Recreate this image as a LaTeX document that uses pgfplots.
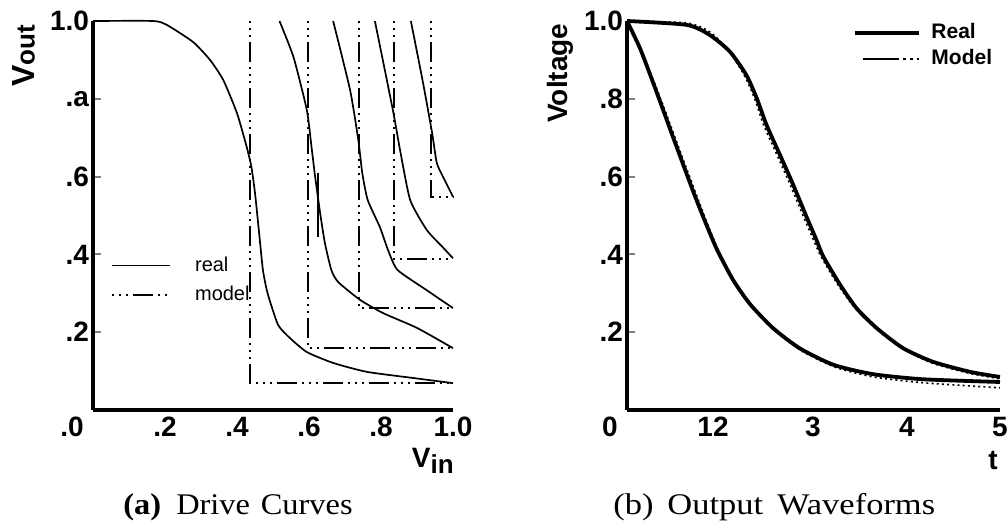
\documentclass[border=0pt]{standalone}
\usepackage{pgfplots}
\pgfplotsset{compat=1.18}
\usepackage{fontspec}
\setmainfont{Liberation Serif}
\setsansfont{Liberation Sans}
\newcommand\tickfont{\sffamily\bfseries\fontsize{14}{16}\selectfont}
\begin{document}
\begin{tikzpicture}
\useasboundingbox (-46.5pt,-57pt) rectangle (457.5pt,205pt);
\tikzset{
  realL/.style={line width=0.85pt, smooth, tension=0.35},
  modelL/.style={line width=0.85pt, dash pattern=on 1pt off 2.5pt on 1pt off 2.5pt on 1pt off 2.5pt on 10pt off 2.5pt},
  realR/.style={line width=1.9pt, smooth, tension=0.4},
  modelR/.style={line width=0.8pt, dash pattern=on 1pt off 1.6pt, smooth, tension=0.4},
}
% ---------------- (a) Drive curves ----------------
\begin{axis}[at={(0,0)}, anchor=south west, scale only axis,
  width=180pt, height=194.5pt,
  xmin=0, xmax=1, ymin=0, ymax=1,
  axis lines=left, axis line style={-, line width=1.6pt},
  clip=false,
  xtick={0.2,0.4,0.6,0.8,1.0}, xticklabels={.2,.4,.6,.8,1.0},
  ytick={0.2,0.4,0.6,0.8,1.0}, yticklabels={.2,.4,.6,.a,1.0},
  tick label style={font=\tickfont},
  xtick style={draw=none}, ytick style={line width=1pt},
  tick align=inside, major tick length=4pt,
  yticklabel style={xshift=1.5pt},
  legend style={draw=none, fill=none, at={(axis cs:0.05,0.405)}, anchor=north west,
    font=\sffamily\fontsize{10}{12}\selectfont, row sep=2pt, column sep=10pt, inner sep=0pt,
    cells={anchor=west}},
  legend image code/.code={\draw[#1] (0pt,0pt) -- (29pt,0pt);},
]
\addplot[realL] coordinates {(0,1.0) (0.167,1.0) (0.205,0.99) (0.278,0.946) (0.325,0.90) (0.362,0.848) (0.40,0.763) (0.427,0.676) (0.44,0.625) (0.45,0.558) (0.462,0.45) (0.472,0.36) (0.485,0.300) (0.514,0.219) (0.547,0.185) (0.594,0.149) (0.667,0.121) (0.761,0.098) (0.90,0.081) (1.0,0.069)};
\addlegendentry{real}
\addplot[modelL] coordinates {(0.436,1.0) (0.436,0.069) (1.0,0.069)};
\addlegendentry{model}
% curve 2
\addplot[realL, forget plot] coordinates {(0.518,1.0) (0.557,0.907) (0.594,0.771) (0.607,0.676) (0.617,0.60) (0.631,0.506) (0.644,0.43) (0.662,0.36) (0.681,0.329) (0.742,0.283) (0.806,0.249) (0.90,0.211) (1.0,0.159)};
\addplot[line width=0.85pt, forget plot] coordinates {(0.625,0.61) (0.625,0.445)};
\addplot[modelL, forget plot] coordinates {(0.598,1.0) (0.598,0.159) (1.0,0.159)};
% curve 3
\addplot[realL, forget plot] coordinates {(0.667,1.0) (0.714,0.823) (0.737,0.694) (0.748,0.609) (0.763,0.54) (0.797,0.47) (0.82,0.41) (0.846,0.36) (0.927,0.308) (1.0,0.262)};
\addplot[modelL, forget plot] coordinates {(0.739,1.0) (0.739,0.262) (1.0,0.262)};
% curve 4
\addplot[realL, forget plot] coordinates {(0.783,1.0) (0.833,0.771) (0.853,0.668) (0.881,0.54) (0.927,0.463) (0.97,0.42) (1.0,0.39)};
\addplot[modelL, forget plot] coordinates {(0.837,1.0) (0.837,0.388) (1.0,0.388)};
% curve 5
\addplot[realL, forget plot] coordinates {(0.883,1.0) (0.917,0.84) (0.942,0.712) (0.955,0.635) (0.972,0.60) (1.0,0.548)};
\addplot[modelL, forget plot] coordinates {(0.938,1.0) (0.938,0.548) (1.0,0.548)};
\node[anchor=north, font=\tickfont, inner sep=0.333em] at (axis cs:-0.058,0) {.0};
\node[rotate=90, anchor=south, font=\sffamily\bfseries, inner sep=0pt] at (axis cs:-0.16,0.91) {{\fontsize{16}{16}\selectfont V}{\fontsize{13}{13}\selectfont out}};
\node[font=\sffamily\bfseries, inner sep=0pt] at (axis cs:0.944,-0.131) {{\fontsize{14}{14}\selectfont V}\raisebox{-3pt}{\fontsize{13}{13}\selectfont in}};
\end{axis}
% ---------------- (b) Output waveforms ----------------
\begin{axis}[at={(267pt,0)}, anchor=south west, scale only axis,
  width=186.5pt, height=194.5pt,
  xmin=0, xmax=5, ymin=0, ymax=1,
  axis lines=left, axis line style={-, line width=1.6pt},
  clip=false,
  xtick={1.153,2.493,3.753,5}, xticklabels={12,3,4,5},
  ytick={0.2,0.4,0.6,0.8,1.0}, yticklabels={.2,.4,.6,.8,1.0},
  tick label style={font=\tickfont},
  xtick style={draw=none}, ytick style={line width=1pt},
  tick align=inside, major tick length=4pt,
  yticklabel style={xshift=1.5pt},
  legend style={draw=none, fill=none, at={(rel axis cs:0.606,1.005)}, anchor=north west,
    font=\sffamily\bfseries\fontsize{10.5}{12}\selectfont, row sep=0pt, column sep=3pt, inner sep=0pt,
    cells={anchor=west}},
]
\addplot[realR, legend image code/.code={\draw[solid, line width=2pt] (0pt,0pt) -- (32pt,0pt);}] coordinates {(0,1.0) (0.174,0.93) (0.353,0.84) (0.487,0.77) (0.62,0.70) (0.755,0.63) (0.889,0.561) (1.02,0.497) (1.2,0.415) (1.42,0.335) (1.65,0.272) (1.96,0.21) (2.32,0.158) (2.77,0.116) (3.3,0.092) (3.97,0.079) (5.0,0.072)};
\addlegendentry{Real}
\addplot[modelR, legend image code/.code={\draw[solid, line width=0.8pt] (4pt,0pt) -- (22pt,0pt); \draw[line width=1pt, dash pattern=on 1.2pt off 2.3pt] (24pt,0pt) -- (32pt,0pt);}] coordinates {(0,1.0) (0.18,0.93) (0.37,0.84) (0.51,0.77) (0.645,0.70) (0.78,0.63) (0.915,0.561) (1.045,0.495) (1.225,0.41) (1.44,0.33) (1.67,0.268) (1.98,0.205) (2.34,0.152) (2.79,0.11) (3.3,0.085) (3.97,0.07) (5.0,0.057)};
\addlegendentry{Model}
\addplot[realR, forget plot] coordinates {(0,1.0) (0.8,0.99) (1.11,0.964) (1.38,0.921) (1.6,0.861) (1.74,0.801) (1.87,0.733) (2.05,0.656) (2.23,0.578) (2.41,0.495) (2.54,0.437) (2.63,0.395) (2.86,0.321) (3.08,0.261) (3.35,0.21) (3.7,0.159) (4.1,0.124) (4.6,0.098) (5.0,0.085)};
\addplot[modelR, forget plot] coordinates {(0,1.0) (0.8,0.995) (1.11,0.972) (1.36,0.925) (1.57,0.861) (1.71,0.801) (1.83,0.733) (2.01,0.656) (2.19,0.578) (2.37,0.495) (2.5,0.437) (2.6,0.395) (2.83,0.321) (3.06,0.261) (3.33,0.21) (3.7,0.157) (4.1,0.12) (4.6,0.094) (5.0,0.08)};
\node[anchor=north, font=\tickfont, inner sep=0.333em] at (axis cs:-0.228,0) {0};
\node[rotate=90, font=\sffamily\bfseries\fontsize{14}{16}\selectfont, inner sep=0pt] at (axis cs:-0.898,0.866) {Voltage};
\node[font=\sffamily\bfseries\fontsize{14}{14}\selectfont, inner sep=0pt] at (axis cs:4.906,-0.129) {t};
\end{axis}
% ---------------- captions ----------------
\node[anchor=base west, inner sep=0pt] at (15pt,-52.5pt) {\scalebox{1.08}[1]{\fontsize{15}{17}\selectfont\textbf{(a)}\hspace{7pt}Drive\hspace{5pt}Curves}};
\node[anchor=base west, inner sep=0pt] at (260pt,-52.5pt) {\scalebox{1.15}[1]{\fontsize{15}{17}\selectfont (b)\hspace{6pt}Output\hspace{6pt}Waveforms}};
\end{tikzpicture}
\end{document}
